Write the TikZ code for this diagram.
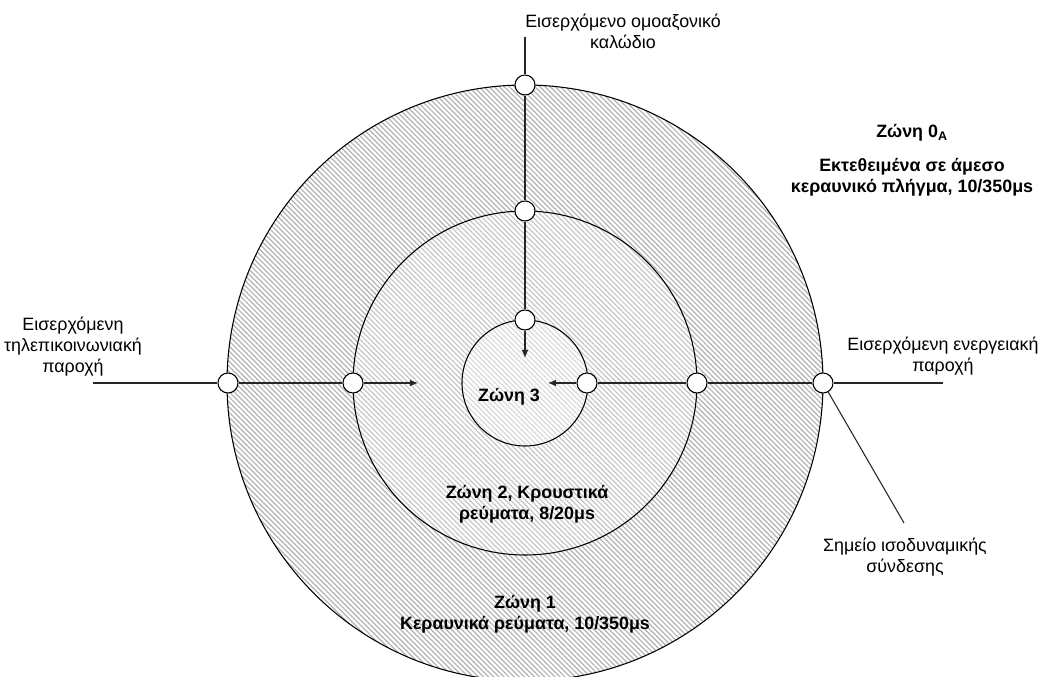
\documentclass[tikz,border=0pt]{standalone}
\usepackage{fontspec}
\setmainfont{Liberation Sans}
\usepackage{tikz}
\usetikzlibrary{arrows.meta,calc,patterns.meta}

\begin{document}
\begin{tikzpicture}[
  x=0.75pt,
  y=0.75pt,
  font=\fontsize{13.4}{15.75}\selectfont
]

  \tikzstyle{zonenode}=[draw,circle,thick,inner sep=0pt,preaction={fill=white}]
  \tikzstyle{zoneouter}=[zonenode,minimum size=447pt,pattern={Lines[angle=-45,distance=2.7pt,line width=0.9pt]},pattern color=gray!60]
  \tikzstyle{zonemiddle}=[zonenode,minimum size=258pt,pattern={Lines[angle=-45,distance=2.7pt,line width=0.9pt]},pattern color=gray!45]
  \tikzstyle{zoneinner}=[zonenode,minimum size=94.5pt,pattern={Lines[angle=-45,distance=2.7pt,line width=0.9pt]},pattern color=gray!30]

  \tikzstyle{bondnode}=[draw,circle,fill=white,thick,minimum size=15pt,inner sep=0pt]
  \tikzstyle{labnode}=[align=center,inner sep=0pt]
  \tikzstyle{zonelab}=[align=center,inner sep=0pt,font=\fontsize{13.4}{15.75}\selectfont\bfseries]

  \tikzstyle{cable}=[draw,thick,black!85]
  \tikzstyle{pointer}=[draw,thick,black!85,-{Latex[length=6pt,width=5pt]}]

  \useasboundingbox (-525,-294) rectangle (517,383);

  % zones
  \node[zoneouter]  (zone0) at (0,0) {};
  \node[zonemiddle] (zone1) at (0,0) {};
  \node[zoneinner]  (zone2) at (0,0) {};

  % bonding points
  \node[bondnode] (j0t) at (90:298) {};
  \node[bondnode] (j1t) at (90:172) {};
  \node[bondnode] (j2t) at (90:63)  {};
  \node[bondnode] (j0l) at (180:297) {};
  \node[bondnode] (j1l) at (180:172) {};
  \node[bondnode] (j0r) at (0:298) {};
  \node[bondnode] (j1r) at (0:172) {};
  \node[bondnode] (j2r) at (0:62)  {};

  \coordinate (coaxin)  at (0,346);
  \coordinate (coaxend) at (0,25);
  \coordinate (telin)   at (-432,0);
  \coordinate (telend)  at (-107,0);
  \coordinate (powin)   at (418,0);
  \coordinate (powend)  at (23,0);
  \coordinate (bondend) at (379,-140);

  % labels
  \node[labnode] (coaxlab) at (98,352) {Εισερχόμενο ομοαξονικό\\καλώδιο};
  \node[labnode] (tellab)  at (-452,36) {Εισερχόμενη\\τηλεπικοινωνιακή\\παροχή};
  \node[labnode] (powlab)  at (418,27) {Εισερχόμενη ενεργειακή\\παροχή};
  \node[labnode] (bondlab) at (380,-174) {Σημείο ισοδυναμικής\\σύνδεσης};

  \node[zonelab] (z0lab)  at (387,250) {Ζώνη 0\textsubscript{A}};
  \node[zonelab] (z0desc) at (387,206) {Εκτεθειμένα σε άμεσο\\κεραυνικό πλήγμα, 10/350μs};
  \node[zonelab] (z1lab)  at (0,-231) {Ζώνη 1\\Κεραυνικά ρεύματα, 10/350μs};
  \node[zonelab] (z2lab)  at (2,-121) {Ζώνη 2, Κρουστικά\\ρεύματα, 8/20μs};
  \node[zonelab] (z3lab)  at (-16,-14) {Ζώνη 3};

  % cables
  \draw[cable]   (coaxin) -- (j0t);
  \draw[cable]   (j0t)    -- (j1t);
  \draw[cable]   (j1t)    -- (j2t);
  \draw[pointer] (j2t)    -- (coaxend);

  \draw[cable]   (telin)  -- (j0l);
  \draw[cable]   (j0l)    -- (j1l);
  \draw[pointer] (j1l)    -- (telend);

  \draw[cable]   (powin)  -- (j0r);
  \draw[cable]   (j0r)    -- (j1r);
  \draw[cable]   (j1r)    -- (j2r);
  \draw[pointer] (j2r)    -- (powend);

  \draw[cable]   (j0r)    -- (bondend);

\end{tikzpicture}
\end{document}
